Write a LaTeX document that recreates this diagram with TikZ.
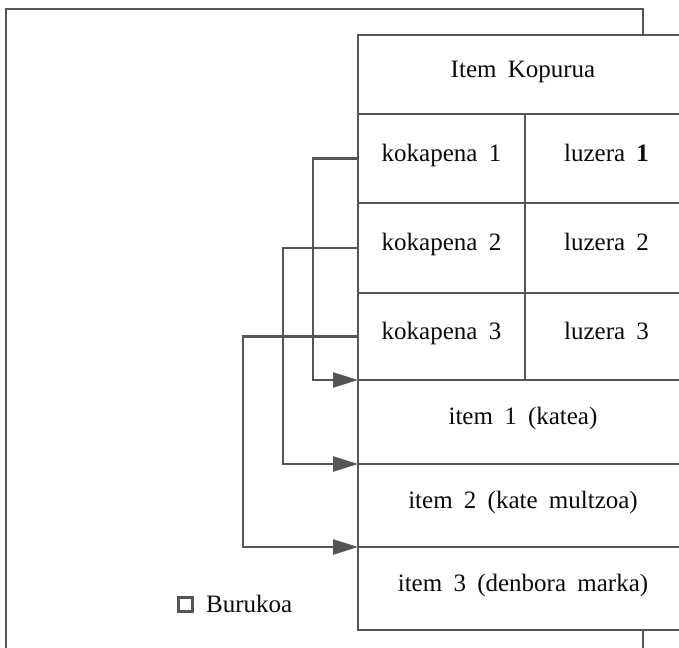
\documentclass[tikz,border=0pt]{standalone}
\usepackage{fontspec}
\setmainfont{Liberation Serif}
\usetikzlibrary{arrows.meta}
\definecolor{linegray}{RGB}{85,85,85}
\definecolor{txt}{RGB}{10,10,10}
\newcommand{\cellfnt}{\fontsize{25pt}{29pt}\selectfont\spaceskip=0.45em plus 0.1em\relax}
\tikzset{
  cell/.style={draw=linegray, line width=2.4pt, fill=white, inner sep=0pt, outer sep=0pt,
    text=txt, font=\cellfnt, text height=0.74em, text depth=0.16em},
  conn/.style={draw=linegray, line width=2.4pt, -{Triangle[length=25pt,width=15pt]}},
  frame/.style={draw=linegray, line width=2.4pt}
}
\begin{document}
\begin{tikzpicture}[x=1pt,y=-1pt]
\clip (0,0) rectangle (679,647);
\fill[white] (0,0) rectangle (679,647);
% outer frame
\draw[frame] (6,9) rectangle (643,670);
% table
\node[cell, minimum width=330pt, minimum height=79pt] (hdr) at (523,74.5) {Item Kopurua};
\node[cell, minimum width=167pt, minimum height=89pt] (k1) at (441.5,158.5) {kokapena 1};
\node[cell, minimum width=163pt, minimum height=89pt] (l1) at (606.5,158.5) {luzera \textbf{1}};
\node[cell, minimum width=167pt, minimum height=90pt] (k2) at (441.5,248) {kokapena 2};
\node[cell, minimum width=163pt, minimum height=90pt] (l2) at (606.5,248) {luzera 2};
\node[cell, minimum width=167pt, minimum height=87pt] (k3) at (441.5,336.5) {kokapena 3};
\node[cell, minimum width=163pt, minimum height=87pt] (l3) at (606.5,336.5) {luzera 3};
\node[cell, minimum width=330pt, minimum height=84pt] (i1) at (523,422) {item 1 (katea)};
\node[cell, minimum width=330pt, minimum height=83pt] (i2) at (523,505.5) {item 2 (kate multzoa)};
\node[cell, minimum width=330pt, minimum height=83pt] (i3) at (523,588.5) {item 3 (denbora marka)};
% connectors
\draw[conn] (k1.west) -- ++(-45,0) |- (i1.north west);
\draw[conn] (k2.west) -- ++(-75,0) |- (i2.north west);
\draw[conn] (k3.west) -- ++(-115,0) |- (i3.north west);
% legend
\node[draw=linegray, line width=2.4pt, minimum size=14pt, inner sep=0pt] (legbox) at (185.5,604.5) {};
\node[anchor=base west, inner sep=0pt, text=txt, font=\fontsize{25pt}{29pt}\selectfont] (leg) at (206,612) {Burukoa};
\end{tikzpicture}
\end{document}
